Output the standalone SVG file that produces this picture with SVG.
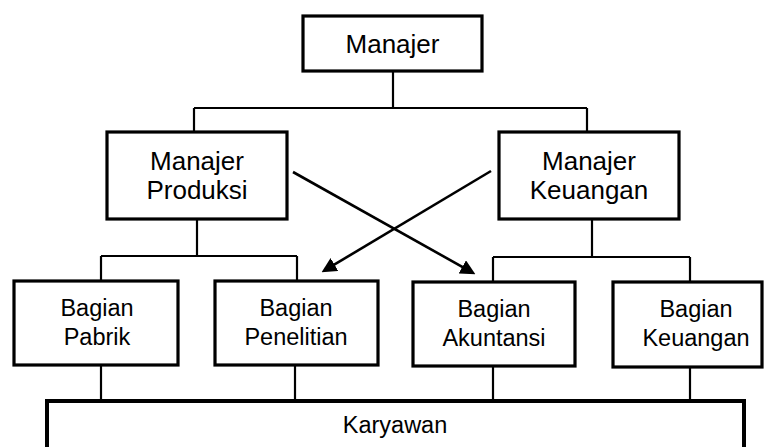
<svg xmlns="http://www.w3.org/2000/svg" width="766" height="447" viewBox="0 0 766 447">
<style>
.box{fill:#fff;stroke:#000;stroke-width:3.2}
.big{font-family:"Liberation Sans",Arial,sans-serif;font-size:26px;fill:#000;text-anchor:middle}
.sm{font-family:"Liberation Sans",Arial,sans-serif;font-size:23.5px;fill:#000;text-anchor:middle}
.conn line{stroke:#000;stroke-width:2.2;fill:none}
.conn .arr{stroke-width:2.6}
</style>
<defs>
<marker id="ah" markerUnits="userSpaceOnUse" viewBox="0 0 14 14" markerWidth="15" markerHeight="15" refX="8" refY="7" orient="auto">
<path d="M0,0 L14,7 L0,14 z" fill="#000"/>
</marker>
</defs>
<rect width="766" height="447" fill="#fff"/>
<g id="connectors" class="conn">
<line x1="393" y1="71" x2="393" y2="108"/>
<line x1="194" y1="108" x2="587" y2="108"/>
<line x1="194" y1="108" x2="194" y2="132"/>
<line x1="587" y1="108" x2="587" y2="132"/>
<line x1="197" y1="219" x2="197" y2="256"/>
<line x1="101" y1="256" x2="297" y2="256"/>
<line x1="101" y1="256" x2="101" y2="281"/>
<line x1="297" y1="256" x2="297" y2="281"/>
<line x1="592" y1="219" x2="592" y2="257"/>
<line x1="493" y1="257" x2="690" y2="257"/>
<line x1="493" y1="257" x2="493" y2="282"/>
<line x1="690" y1="257" x2="690" y2="282"/>
<line x1="101" y1="365" x2="101" y2="401"/>
<line x1="295" y1="365" x2="295" y2="401"/>
<line x1="493" y1="366" x2="493" y2="401"/>
<line x1="690" y1="367" x2="690" y2="401"/>
<line class="arr" x1="293" y1="172" x2="469.8" y2="271.1" marker-end="url(#ah)"/>
<line class="arr" x1="491" y1="171" x2="327.1" y2="268.9" marker-end="url(#ah)"/>
</g>
<g id="manajer">
<rect class="box" x="303" y="16" width="179" height="55"/>
<text class="big" x="392.5" y="53">Manajer</text>
</g>
<g id="manajer-produksi">
<rect class="box" x="107" y="132" width="180" height="87"/>
<text class="big" x="197" y="170">Manajer</text>
<text class="big" x="197" y="199">Produksi</text>
</g>
<g id="manajer-keuangan">
<rect class="box" x="499" y="132" width="180" height="87"/>
<text class="big" x="589" y="170">Manajer</text>
<text class="big" x="589" y="199">Keuangan</text>
</g>
<g id="bagian-pabrik">
<rect class="box" x="14" y="281" width="164" height="84"/>
<text class="sm" x="97" y="316">Bagian</text>
<text class="sm" x="97" y="345">Pabrik</text>
</g>
<g id="bagian-penelitian">
<rect class="box" x="215" y="281" width="163" height="84"/>
<text class="sm" x="296" y="316">Bagian</text>
<text class="sm" x="296" y="345">Penelitian</text>
</g>
<g id="bagian-akuntansi">
<rect class="box" x="413" y="282" width="162" height="84"/>
<text class="sm" x="494" y="317">Bagian</text>
<text class="sm" x="494" y="346">Akuntansi</text>
</g>
<g id="bagian-keuangan">
<rect class="box" x="613" y="282" width="149" height="85"/>
<text class="sm" x="696" y="317">Bagian</text>
<text class="sm" x="696" y="346">Keuangan</text>
</g>
<g id="karyawan">
<rect class="box" x="47" y="401" width="697" height="70" style="stroke-width:4"/>
<text class="sm" x="395" y="433">Karyawan</text>
</g>
</svg>
